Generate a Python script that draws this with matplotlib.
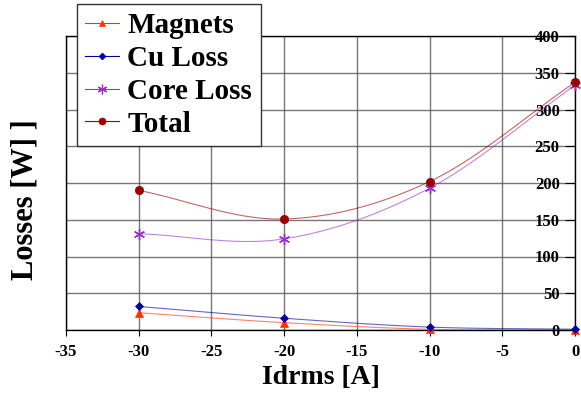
import matplotlib.pyplot as plt
from matplotlib.font_manager import FontProperties
import numpy as np

current = [-30, -20, -10, 0]
magnets = [23.5, 10, 1, 0]
cu_loss = [32, 16, 4, 1]
core_loss = [131, 124, 193, 333]
total = [190, 151, 202, 337]

x_ticks = [-35, -30, -25, -20, -15, -10, -5, 0]
y_ticks = [0, 50, 100, 150, 200, 250, 300, 350, 400]


def smooth(xs, ys, n=30):
    # Catmull-Rom curve through the points, like Excel's smoothed lines
    xs = np.asarray(xs, float)
    ys = np.asarray(ys, float)
    px = np.concatenate([[2 * xs[0] - xs[1]], xs, [2 * xs[-1] - xs[-2]]])
    py = np.concatenate([[2 * ys[0] - ys[1]], ys, [2 * ys[-1] - ys[-2]]])
    out_x, out_y = [], []
    t = np.linspace(0, 1, n)
    for i in range(1, len(px) - 2):
        for p, out in ((px, out_x), (py, out_y)):
            p0, p1, p2, p3 = p[i - 1], p[i], p[i + 1], p[i + 2]
            out.extend(0.5 * (2 * p1 + (-p0 + p2) * t
                              + (2 * p0 - 5 * p1 + 4 * p2 - p3) * t ** 2
                              + (-p0 + 3 * p1 - 3 * p2 + p3) * t ** 3))
    return out_x, out_y


plt.rcParams['font.family'] = 'Liberation Serif'
plt.rcParams['font.weight'] = 'bold'
plt.rcParams['axes.unicode_minus'] = False

fig = plt.figure(figsize=(5.81, 3.96), dpi=100)
ax = fig.add_axes([66 / 581, 1 - 330 / 396, 509 / 581, 294 / 396])

asterisk = (6, 2, 0)
series = [
    ('Magnets', magnets, '#ff3300', '^', 6),
    ('Cu Loss', cu_loss, '#000099', 'D', 4.5),
    ('Core Loss', core_loss, '#9933cc', asterisk, 8),
    ('Total', total, '#990000', 'o', 6),
]
handles = []
for name, vals, col, mk, ms in series:
    thin = mk == asterisk
    sx, sy = smooth(current, vals)
    ax.plot(sx, sy, color=col, lw=0.8, alpha=0.6, zorder=3)
    ax.plot(current, vals, linestyle='none', marker=mk, color=col, ms=ms,
            mew=1.0 if thin else 0.5, clip_on=False, zorder=4)
    h, = ax.plot([], [], color=col, lw=0.8, marker=mk, ms=ms - 1,
                 mew=0.9 if thin else 0.5, label=name)
    handles.append(h)

ax.set_xlim(-35, 0)
ax.set_ylim(0, 400)
ax.set_xticks(x_ticks)
ax.set_yticks(y_ticks)
ax.grid(True, color='#555555', lw=1.0, alpha=0.8)
ax.set_axisbelow(True)

for s in ax.spines.values():
    s.set_color('black')
    s.set_linewidth(1.0)

ax.tick_params(axis='x', direction='out', length=4, labelsize=12, pad=6)
ax.tick_params(axis='y', left=False, labelleft=False, right=True, labelright=True,
               direction='in', length=7, labelsize=12, pad=-11)
for lab in ax.get_yticklabels():
    lab.set_horizontalalignment('right')

ax.set_xlabel('Idrms [A]', fontsize=20, fontweight='bold', labelpad=4)
fig.text(0.043, 1 - 200 / 396, 'Losses [W] ]', rotation=90, fontsize=22,
         fontweight='bold', ha='center', va='center')

leg_font = FontProperties(family='Liberation Serif', weight='bold', size=21)
leg = fig.legend(handles=handles, loc='upper left', bbox_to_anchor=(77 / 581, 1 - 4 / 396),
                 borderaxespad=0, fancybox=False, framealpha=1, edgecolor='#333333',
                 prop=leg_font, handlelength=1.15, handletextpad=0.3,
                 labelspacing=0.2, borderpad=0.28)
leg.get_frame().set_linewidth(1.0)

fig.savefig('out.png', dpi=100)
